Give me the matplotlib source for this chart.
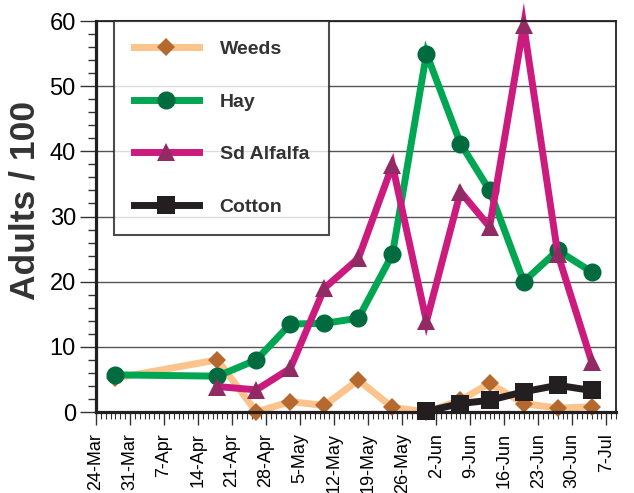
# Adult counts per sample date in four host crops
import matplotlib
matplotlib.use("Agg")
import matplotlib.pyplot as plt
import matplotlib.dates as mdates
import pandas as pd

plt.rcParams['font.family'] = ['Liberation Sans', 'DejaVu Sans']

dates = pd.to_datetime(["2003-03-28", "2003-04-18", "2003-04-26", "2003-05-03",
                        "2003-05-10", "2003-05-17", "2003-05-24", "2003-05-31",
                        "2003-06-07", "2003-06-13", "2003-06-20", "2003-06-27",
                        "2003-07-04"])

weeds = [5.2, 8.0, 0.0, 1.6, 1.0, 4.9, 0.7, 0.0, 1.8, 4.4, 1.3, 0.6, 0.8]
hay = [5.7, 5.5, 8.0, 13.5, 13.6, 14.4, 24.2, 55.0, 41.2, 34.0, 20.0, 24.8, 21.5]
alfalfa = [None, 3.9, 3.4, 6.7, 19.0, 23.6, 37.9, 13.9, 33.8, 28.4, 59.4, 24.3, 7.7]
cotton = [None, None, None, None, None, None, None, 0.1, 1.3, 1.8, 3.1, 4.1, 3.3]

series_names = ["Weeds", "Hay", "Sd Alfalfa", "Cotton"]

fig = plt.figure(figsize=(6.34, 4.93), dpi=100)
ax = fig.add_axes([0.1514, 0.1643, 0.8202, 0.7931])

def draw(vals, name, line_c, mark_c, marker, ms):
    s = pd.Series(vals, index=dates, dtype=float).dropna()
    ax.plot(s.index, s.values, color=line_c, lw=5, marker=marker, ms=ms,
            mfc=mark_c, mec=mark_c, mew=0, label=name, clip_on=False,
            solid_joinstyle='miter')

draw(weeds, series_names[0], "#FBC48C", "#B5692F", "D", 9.5)
draw(hay, series_names[1], "#00A651", "#006B3F", "o", 13)
draw(alfalfa, series_names[2], "#CC1B7E", "#922B63", "^", 13)
draw(cotton, series_names[3], "#231F20", "#231F20", "s", 13)

ax.set_ylim(0, 60)
ax.set_yticks(range(0, 61, 10))
ax.set_yticks(range(0, 61, 2), minor=True)
ax.yaxis.grid(True, color="#555555", lw=1.0)
ax.set_axisbelow(True)

ax.set_xlim(pd.Timestamp("2003-03-24"), pd.Timestamp("2003-07-09"))
ax.set_xticks(pd.date_range("2003-03-24", "2003-07-07", freq="7D"))
ax.xaxis.set_minor_locator(mdates.DayLocator())
ax.xaxis.set_major_formatter(mdates.DateFormatter("%-d-%b"))
plt.setp(ax.get_xticklabels(), rotation=90)

ax.tick_params(axis='y', which='major', length=11.5, width=1, labelsize=17, pad=3, color="#333333")
ax.tick_params(axis='y', which='minor', length=5.8, width=1, color="#333333")
ax.tick_params(axis='x', which='major', length=9, width=1, labelsize=13, pad=6, color="#333333")
ax.tick_params(axis='x', which='minor', length=5, width=0.8, color="#333333")

for side in ["left", "bottom"]:
    ax.spines[side].set_linewidth(2.3)
    ax.spines[side].set_color("#231F20")
for side in ["top", "right"]:
    ax.spines[side].set_linewidth(1.3)
    ax.spines[side].set_color("#231F20")

ax.set_ylabel("Adults / 100", fontsize=25.5, fontweight="bold", color="#333333")
ax.yaxis.set_label_coords(-0.105, 0.54)

leg = ax.legend(loc="upper left", bbox_to_anchor=(0.035, 1.0), borderaxespad=0,
                fontsize=14, frameon=True, fancybox=False, handlelength=3.35,
                handletextpad=1.07, labelspacing=1.8, borderpad=1.0)
leg.get_frame().set_edgecolor("#231F20")
leg.get_frame().set_linewidth(1.5)
for t in leg.get_texts():
    t.set_fontweight("bold")
    t.set_color("#333333")

fig.savefig("out.png", dpi=100)
